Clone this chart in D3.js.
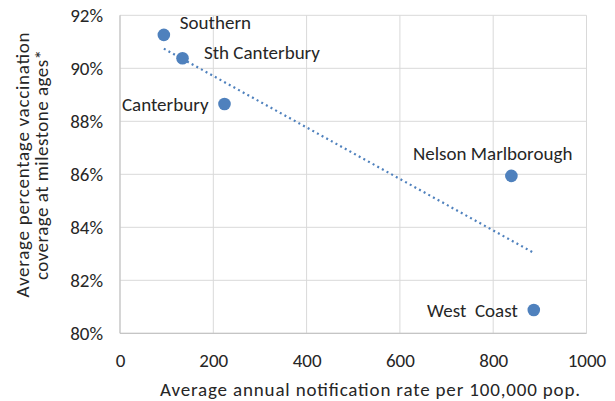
<!DOCTYPE html>
<html><head><meta charset="utf-8">
<script src="https://cdn.jsdelivr.net/npm/d3@7"></script>
<style>
html,body{margin:0;padding:0;background:#fff;}
text{font-family:Carlito, Lato, "Liberation Sans", sans-serif;fill:#262626;}
</style></head>
<body><svg id="c" width="615" height="401"></svg>
<script>
const regions = ["Southern", "Sth Canterbury", "Canterbury", "Nelson Marlborough", "West  Coast"];
const notificationRate = [94, 134, 224, 839, 887];
const coverage = [91.26, 90.38, 88.65, 85.94, 80.88];
const xTicks = [0, 200, 400, 600, 800, 1000];
const yTicks = [80, 82, 84, 86, 88, 90, 92];
const labelPlacement = ["aboveRight", "right", "left", "above", "left"];

const svg = d3.select("#c");
const m = {l:120, r:586.5, t:15.3, b:333.3};
const x = d3.scaleLinear().domain([0,1000]).range([m.l, m.r]);
const y = d3.scaleLinear().domain([80,92]).range([m.b, m.t]);
const fs = 19;

// gridlines
const g = svg.append("g");
g.selectAll(".gx").data(xTicks).join("line")
  .attr("x1", d=>x(d)).attr("x2", d=>x(d)).attr("y1", m.t).attr("y2", m.b)
  .attr("stroke", "#d9d9d9").attr("stroke-width", 1);
g.selectAll(".gy").data(yTicks).join("line")
  .attr("x1", m.l).attr("x2", m.r).attr("y1", d=>y(d)).attr("y2", d=>y(d))
  .attr("stroke", "#d9d9d9").attr("stroke-width", 1);
svg.append("line").attr("x1", m.l).attr("x2", m.l).attr("y1", m.t).attr("y2", m.b).attr("stroke","#bfbfbf");
svg.append("line").attr("x1", m.l).attr("x2", m.r).attr("y1", m.b).attr("y2", m.b).attr("stroke","#bfbfbf");

const xAxis = svg.append("g").attr("transform", `translate(0,${m.b})`)
  .call(d3.axisBottom(x).tickValues(xTicks).tickSize(0).tickPadding(20).tickFormat(d3.format("d")));
const yAxis = svg.append("g").attr("transform", `translate(${m.l},0)`)
  .call(d3.axisLeft(y).tickValues(yTicks).tickSize(0).tickPadding(17).tickFormat(d=>d+"%"));
[xAxis, yAxis].forEach(a=>{
  a.select(".domain").remove();
  a.selectAll("text").attr("font-size", fs).attr("font-family", null).style("fill","#262626");
});

// trendline (least squares)
const n = notificationRate.length;
const mx = d3.mean(notificationRate), my = d3.mean(coverage);
let sxy=0, sxx=0;
for (let i=0;i<n;i++){ sxy += (notificationRate[i]-mx)*(coverage[i]-my); sxx += (notificationRate[i]-mx)**2; }
const slope = sxy/sxx, icpt = my - slope*mx;
const [x0, x1] = d3.extent(notificationRate);
svg.append("line")
  .attr("x1", x(x0)).attr("y1", y(icpt+slope*x0))
  .attr("x2", x(x1)).attr("y2", y(icpt+slope*x1))
  .attr("stroke", "#4f81bd").attr("stroke-width", 2.2)
  .attr("stroke-dasharray", "2,3.3");

svg.selectAll(".pt").data(regions).join("circle")
  .attr("cx", (d,i)=>x(notificationRate[i])).attr("cy", (d,i)=>y(coverage[i]))
  .attr("r", 6.3).attr("fill", "#4f81bd");

svg.selectAll(".lb").data(regions).join("text")
  .attr("font-size", fs).style("white-space","pre")
  .each(function(d,i){
    const px = x(notificationRate[i]), py = y(coverage[i]);
    const s = d3.select(this).text(d);
    const p = labelPlacement[i];
    if (p==="aboveRight") s.attr("x", px+16).attr("y", py-6).attr("text-anchor","start");
    else if (p==="right") s.attr("x", px+21.5).attr("y", py+0.7).attr("text-anchor","start");
    else if (p==="left") s.attr("x", px-16).attr("y", py+7.3).attr("text-anchor","end");
    else s.attr("x", px-18.7).attr("y", py-16).attr("text-anchor","middle");
  });

svg.append("text").attr("x", 370).attr("y", 396).attr("text-anchor","middle")
  .attr("font-size", fs).attr("textLength", 420).attr("lengthAdjust","spacing")
  .text("Average annual notification rate per 100,000 pop.");
const yt = svg.append("text").attr("transform","rotate(-90)")
  .attr("text-anchor","middle").attr("font-size", fs);
yt.append("tspan").attr("x", -165).attr("y", 28.5).attr("textLength", 265).attr("lengthAdjust","spacing").text("Average percentage vaccination");
yt.append("tspan").attr("x", -165).attr("y", 48).attr("textLength", 230).attr("lengthAdjust","spacing").text("coverage at milestone ages*");
</script></body></html>
